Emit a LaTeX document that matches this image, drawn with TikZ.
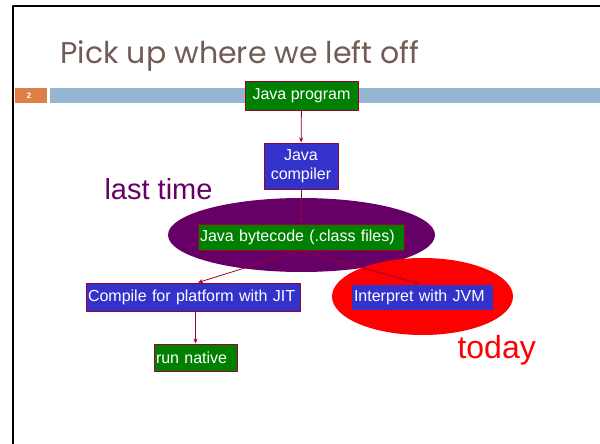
\documentclass[tikz,border=0pt]{standalone}
\usepackage{fontspec}
\setmainfont{Liberation Sans}
\newfontfamily\titlefont{Poppins}
\usetikzlibrary{arrows.meta}
\definecolor{boxred}{HTML}{990033}
\definecolor{javagreen}{HTML}{008000}
\definecolor{javablue}{HTML}{3333CC}
\definecolor{lastpurple}{HTML}{660066}
\definecolor{titlegray}{HTML}{705C55}
\definecolor{barblue}{HTML}{94B6D2}
\definecolor{barorange}{HTML}{DD8047}
\tikzset{
  box/.style={draw=boxred, line width=1pt, text=white, inner xsep=2pt, inner ysep=0pt,
    font=\fontsize{16}{19}\selectfont, align=left},
  greenbox/.style={box, fill=javagreen},
  bluebox/.style={box, fill=javablue},
  flow/.style={boxred, line width=0.8pt, -{Stealth[length=5pt,width=4pt]}}
}
\begin{document}
\begin{tikzpicture}[x=1pt, y=-1pt, line join=round]
  \useasboundingbox (0,0) rectangle (600,444);
  \path
    (301.5,235) coordinate (L)
    (422.5,296.5) coordinate (T)
  ;
  % slide frame and bar
  \draw[line width=2.2pt] (13,444)--(13,6)--(600,6);
  \fill[barorange] (15,88) rectangle (47,103);
  \fill[barblue] (50,88) rectangle (600,103);
  \node[text=white, font=\fontsize{8}{8}\selectfont\bfseries] (num) at (29,95.5) {2};
  \node[anchor=base west, text=titlegray, font=\titlefont\fontsize{30}{36}\selectfont] (title) at (57,64) {Pick up where we left off};
  % highlights
  \fill[lastpurple] (L) ellipse (133.5 and 37);
  \fill[red] (T) ellipse (90.5 and 38.5);
  \node[anchor=base west, text=lastpurple, font=\fontsize{29}{34}\selectfont] (last) at (101,199) {last time};
  \node[anchor=base west, text=red, font=\fontsize{32}{36}\selectfont] (today) at (454,358) {today};
  % flow
  \node[greenbox, minimum width=113pt, minimum height=28pt, align=center] (prog) at (301.5,96) {Java program};
  \node[bluebox, minimum width=74pt, minimum height=46pt, align=center] (comp) at (301,166) {Java\\compiler};
  \node[greenbox, text width=202pt, minimum height=26pt] (byte) at (301,237) {Java bytecode (.class files)};
  \node[bluebox, text width=210pt, minimum height=28pt] (jit) at (193,297) {Compile for platform with JIT};
  \node[bluebox, draw=javablue, text width=136pt, minimum height=24pt] (jvm) at (422,297) {Interpret with JVM};
  \node[greenbox, text width=79pt, minimum height=27pt] (native) at (195.5,357.5) {run native};
  \draw[flow] (prog) -- (comp);
  \draw[flow] (comp) -- (byte);
  \draw[flow] (byte.south) -- ([xshift=5pt]jit.north);
  \draw[flow, shorten >=3pt] (byte.south) -- (jvm.north);
  \draw[flow] (native.north |- jit.south) -- (native.north);
\end{tikzpicture}
\end{document}
